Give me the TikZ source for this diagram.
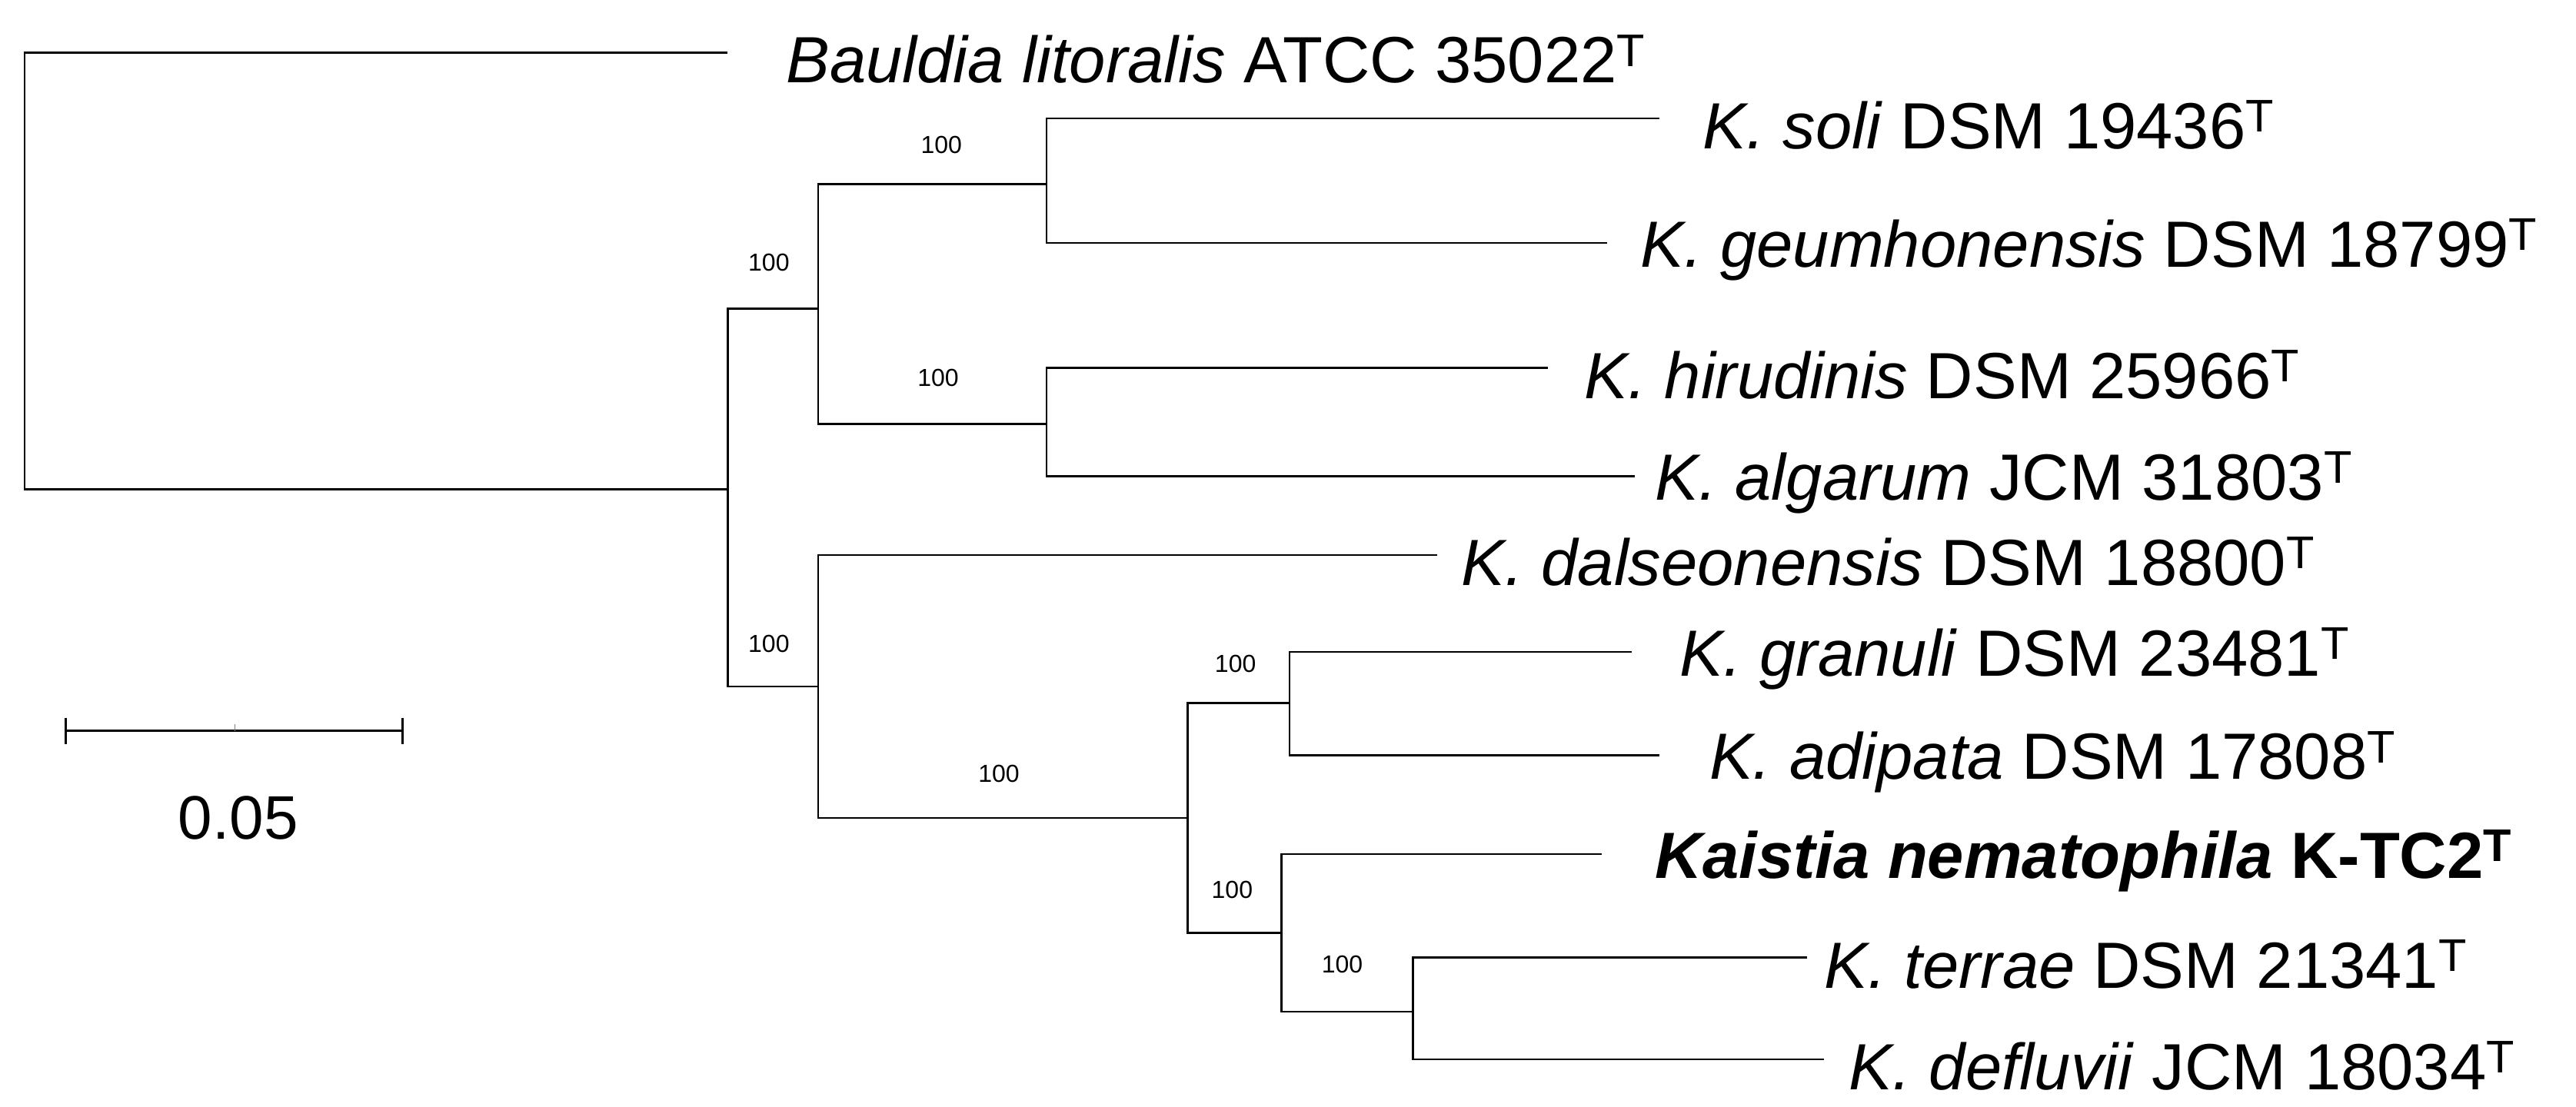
\documentclass[tikz,border=0pt]{standalone}
\usepackage{fontspec}
\setmainfont{Liberation Sans}
\begin{document}
\begin{tikzpicture}[x=2.1365pt,y=-2.1365pt,line width=2.6pt,
  tx/.style={anchor=west,inner sep=0pt,font=\fontsize{85}{90}\selectfont},
  bs/.style={inner sep=0pt,font=\fontsize{32}{36}\selectfont}]
\useasboundingbox (0,0) rectangle (1568,674);
\newcommand\Ty{\raisebox{0.15em}{\textsuperscript{T}}}
% leaves
\node[tx] (baul) at (478,36) {\textit{Bauldia litoralis} ATCC 35022\Ty};
\node[tx] (soli) at (1036,76) {\textit{K. soli} DSM 19436\Ty};
\node[tx] (geum) at (998,152) {\textit{K. geumhonensis} DSM 18799\Ty};
\node[tx] (hiru) at (964,228) {\textit{K. hirudinis} DSM 25966\Ty};
\node[tx] (alga) at (1007,294) {\textit{K. algarum} JCM 31803\Ty};
\node[tx] (dals) at (889,342) {\textit{K. dalseonensis} DSM 18800\Ty};
\node[tx] (gran) at (1022,401) {\textit{K. granuli} DSM 23481\Ty};
\node[tx] (adip) at (1040,464) {\textit{K. adipata} DSM 17808\Ty};
\node[tx] (kais) at (1007,524) {\textbf{\textit{Kaistia nematophila} K-TC2\Ty}};
\node[tx] (terr) at (1110,587) {\textit{K. terrae} DSM 21341\Ty};
\node[tx] (defl) at (1125,649) {\textit{K. defluvii} JCM 18034\Ty};
% tree
\draw (443,32) -- (15,32) -- (15,298) -- (443,298);
\draw (498,112) -- (498,188) -- (443,188) -- (443,418) -- (498,418) -- (498,338);
\draw (637,72) -- (637,112) -- (498,112) -- (498,258) -- (637,258) -- (637,224);
\draw (1010,72) -- (637,72) -- (637,148) -- (978,148);
\draw (942,224) -- (637,224) -- (637,290) -- (995,290);
\draw (875,338) -- (498,338) -- (498,498) -- (723,498);
\draw (785,428) -- (723,428) -- (723,568) -- (780,568);
\draw (993,397) -- (785,397) -- (785,460) -- (1010,460);
\draw (975,520) -- (780,520) -- (780,616) -- (860,616);
\draw (1100,583) -- (860,583) -- (860,645) -- (1110,645);
% bootstrap
\node[bs] at (573,88) {100};
\node[bs] at (468,160) {100};
\node[bs] at (571,230) {100};
\node[bs] at (468,392) {100};
\node[bs] at (608,471) {100};
\node[bs] at (752,404) {100};
\node[bs] at (750,542) {100};
\node[bs] at (817,587) {100};
% scale
\draw (40,437) -- (40,453) (40,445) -- (245,445) (245,437) -- (245,453);
\draw[line width=1pt,gray] (143,441) -- (143,445);
\node[inner sep=0pt,font=\fontsize{80}{86}\selectfont] (sc) at (145,498) {0.05};
\end{tikzpicture}
\end{document}
